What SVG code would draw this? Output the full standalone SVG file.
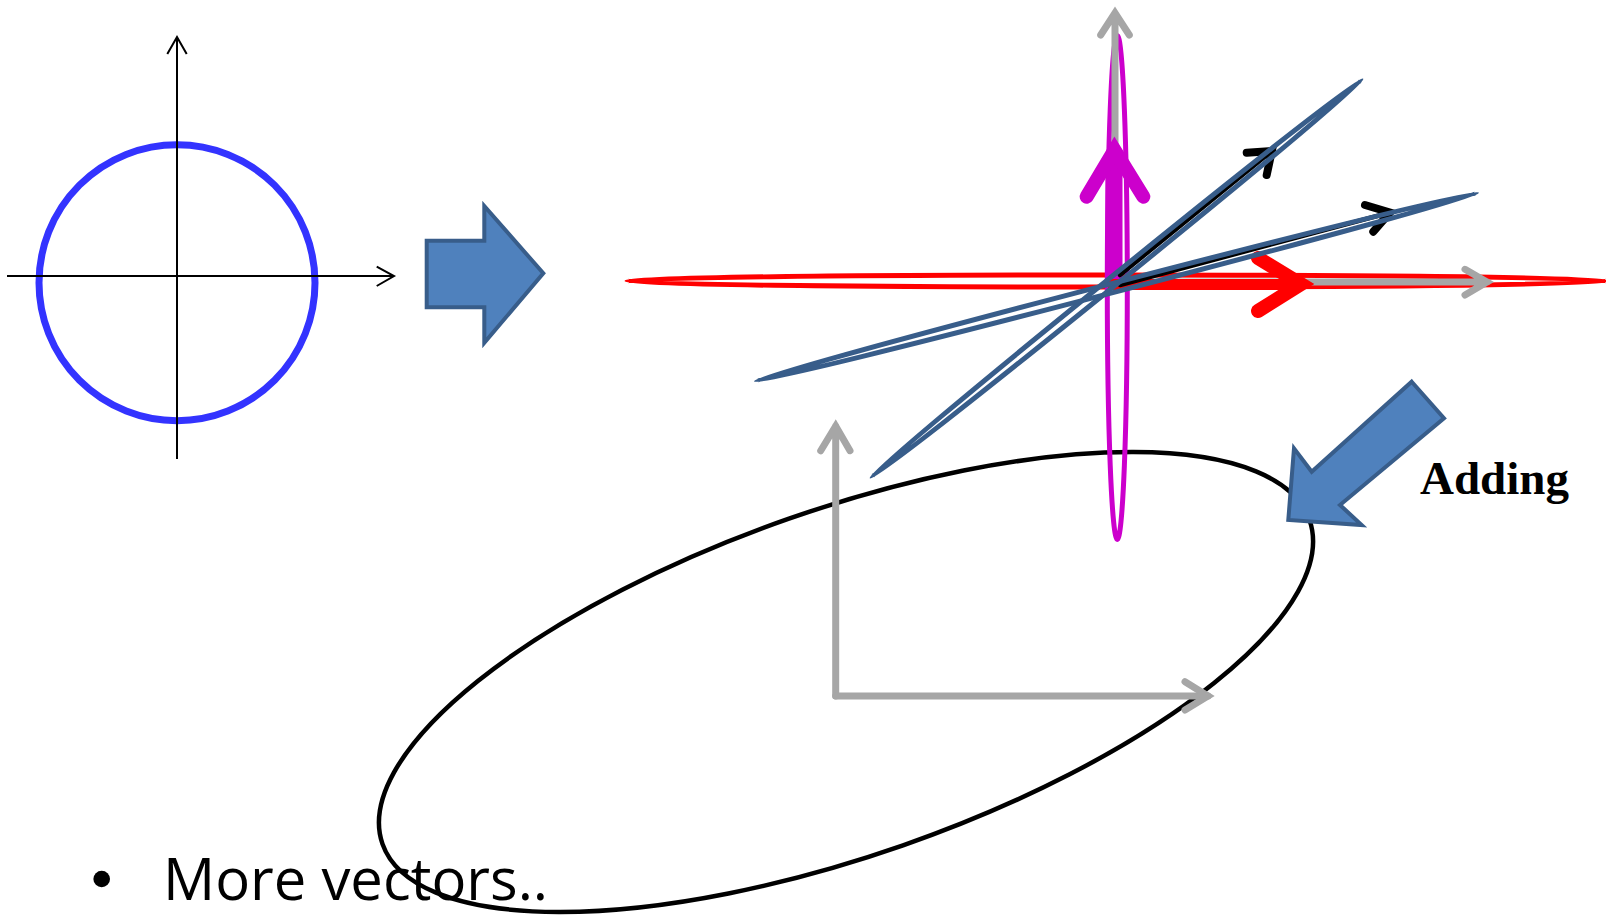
<svg xmlns="http://www.w3.org/2000/svg" width="1606" height="916" viewBox="0 0 1606 916">
<style>
.ax{fill:none;stroke:#000;stroke-width:2}
.gray{fill:none;stroke:#A6A6A6;stroke-width:7;stroke-linecap:round;stroke-linejoin:miter}
.blk{fill:#4F81BD;stroke:#385D8A;stroke-width:4;stroke-linejoin:miter}
.bl{fill:none;stroke:#385D8A;stroke-width:5}
.barr{fill:none;stroke:#000;stroke-linecap:round;stroke-linejoin:miter}
.mag{fill:none;stroke:#CC00CC}
.red{fill:none;stroke:#FF0000}
</style>
<rect width="1606" height="916" fill="#fff"/>
<g id="unit-circle">
  <circle cx="177" cy="282.7" r="138" fill="none" stroke="#3333FF" stroke-width="7"/>
  <path class="ax" d="M177 459V37M167.3 54L177 37L186.7 54"/>
  <path class="ax" d="M7 276H394M376.7 266.7L394 276L376.7 286"/>
</g>
<g id="arrow-right">
  <polygon class="blk" points="426.7,240.7 484.3,240.7 484.3,206 543.3,273.3 484.3,342.7 484.3,307.3 426.7,307.3"/>
</g>
<g id="big-ellipse">
  <ellipse cx="846" cy="682" rx="491" ry="173" transform="rotate(-19.25 846 682)" fill="none" stroke="#000" stroke-width="4.5"/>
</g>
<g id="lower-axes">
  <path class="gray" d="M835.7 696V426M820.7 450.7L835.7 426L850 450.7"/>
  <path class="gray" d="M835.7 696H1208" stroke-linecap="butt"/>
  <path class="gray" d="M1185 681.7L1208 696L1185 710"/>
</g>
<g id="red-ellipse">
  <ellipse class="red" cx="1117" cy="281" rx="490" ry="6" stroke-width="5"/>
</g>
<g id="magenta-ellipse">
  <ellipse class="mag" cx="1117.3" cy="287.4" rx="10" ry="252" stroke-width="5"/>
</g>
<g id="connectors">
  <path class="gray" d="M1115 283V13M1100.7 35L1115 13L1129.3 35"/>
  <path class="gray" d="M1115 282H1487M1465 269.3L1487 282L1465 295"/>
  <path class="mag" d="M1114 281V160" stroke-width="17"/>
  <path class="mag" d="M1086.7 196.7L1114.5 150L1143.3 196.7" stroke-width="14" stroke-linecap="round"/>
  <path class="red" d="M1108 284.5H1290" stroke-width="11"/>
  <path class="red" d="M1258 258L1301 284L1258 311" stroke-width="14" stroke-linecap="round"/>
  <path class="barr" d="M1120 275L1271.8 151" stroke-width="4.5"/>
  <path class="barr" d="M1246.7 152.7L1271.8 151L1266.7 175" stroke-width="8"/>
  <path class="barr" d="M1120 285L1390 212.5" stroke-width="4.5"/>
  <path class="barr" d="M1365 205L1390 212.5L1373.3 231.7" stroke-width="8"/>
</g>
<g id="blue-ellipses">
  <ellipse class="bl" cx="1116.5" cy="278.5" rx="315" ry="4.5" transform="rotate(-39 1116.5 278.5)"/>
  <ellipse class="bl" cx="1116.5" cy="287" rx="372" ry="4.5" transform="rotate(-14.6 1116.5 287)"/>
</g>
<g id="arrow-adding">
  <polygon class="blk" points="1411.7,381.7 1444,418.3 1340,505 1361.7,525 1288.3,520 1294,448.3 1311.7,471.7"/>
  <text x="1420" y="494" font-family="'Liberation Serif', 'Times New Roman', serif" font-weight="bold" font-size="47" fill="#000">Adding</text>
</g>
<g id="bullet">
  <circle cx="101.7" cy="879" r="8.3" fill="#000"/>
  <text x="163" y="900" font-family="'Open Sans', 'Liberation Sans', sans-serif" font-size="58" fill="#000">More vectors..</text>
</g>
</svg>
